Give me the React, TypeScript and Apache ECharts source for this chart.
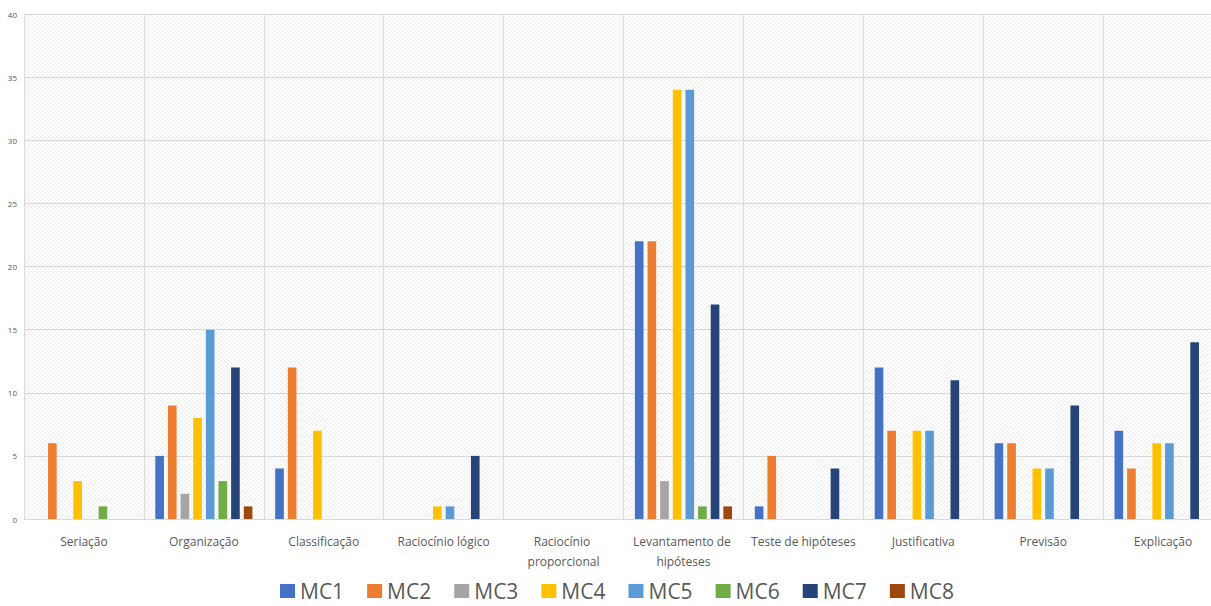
import React, { useEffect, useRef } from "react";
import * as echarts from "echarts";

const categories = [
  "Seriação",
  "Organização",
  "Classificação",
  "Raciocínio lógico",
  "Raciocínio proporcional",
  "Levantamento de hipóteses",
  "Teste de hipóteses",
  "Justificativa",
  "Previsão",
  "Explicação",
];

const seriesNames = ["MC1", "MC2", "MC3", "MC4", "MC5", "MC6", "MC7", "MC8"];
const colors = ["#4472C4", "#ED7D31", "#A5A5A5", "#FFC000", "#5B9BD5", "#70AD47", "#264478", "#9E480E"];

const mc1 = [0, 5, 4, 0, 0, 22, 1, 12, 6, 7];
const mc2 = [6, 9, 12, 0, 0, 22, 5, 7, 6, 4];
const mc3 = [0, 2, 0, 0, 0, 3, 0, 0, 0, 0];
const mc4 = [3, 8, 7, 1, 0, 34, 0, 7, 4, 6];
const mc5 = [0, 15, 0, 1, 0, 34, 0, 7, 4, 6];
const mc6 = [1, 3, 0, 0, 0, 1, 0, 0, 0, 0];
const mc7 = [0, 12, 0, 5, 0, 17, 4, 11, 9, 14];
const mc8 = [0, 1, 0, 0, 0, 1, 0, 0, 0, 0];

const seriesData = [mc1, mc2, mc3, mc4, mc5, mc6, mc7, mc8];

function makeHatch(): string {
  const c = document.createElement("canvas");
  c.width = 4;
  c.height = 4;
  const ctx = c.getContext("2d");
  if (ctx) {
    ctx.fillStyle = "#ffffff";
    ctx.fillRect(0, 0, 4, 4);
    ctx.strokeStyle = "#ebebeb";
    ctx.lineWidth = 1;
    ctx.beginPath();
    ctx.moveTo(-1, -1);
    ctx.lineTo(5, 5);
    ctx.moveTo(-1, 3);
    ctx.lineTo(1, 5);
    ctx.moveTo(3, -1);
    ctx.lineTo(5, 1);
    ctx.stroke();
  }
  return c.toDataURL();
}

export default function App() {
  const ref = useRef<HTMLDivElement>(null);
  useEffect(() => {
    document.body.style.margin = "0";
    document.body.style.overflow = "hidden";
    if (!ref.current) return;
    const chart = echarts.init(ref.current, undefined, { renderer: "svg" });
    const font = "'Open Sans', 'Noto Sans', sans-serif";
    chart.setOption({
      animation: false,
      backgroundColor: "#ffffff",
      textStyle: { fontFamily: font },
      grid: {
        left: 24,
        right: 0,
        top: 14,
        bottom: 87,
        containLabel: false,
        show: true,
        borderWidth: 0,
        backgroundColor: { image: makeHatch(), repeat: "repeat" },
      },
      legend: {
        data: seriesNames,
        left: 275,
        top: 575,
        itemWidth: 15,
        itemHeight: 14,
        itemGap: 23,
        icon: "rect",
        textStyle: { fontSize: 21, lineHeight: 22, color: "#595959", fontFamily: font },
      },
      xAxis: {
        type: "category",
        data: categories,
        axisTick: { show: false },
        axisLine: { show: true, lineStyle: { color: "#d9d9d9" } },
        splitLine: { show: true, lineStyle: { color: "#d9d9d9" } },
        axisLabel: {
          interval: 0,
          fontSize: 12,
          color: "#595959",
          margin: 12,
          lineHeight: 20,
          width: 116,
          overflow: "break",
          fontFamily: font,
        },
      },
      yAxis: {
        type: "value",
        min: 0,
        max: 40,
        interval: 5,
        axisLine: { show: false },
        axisTick: { show: false },
        splitLine: { show: true, lineStyle: { color: "#d9d9d9" } },
        axisLabel: { fontSize: 8, color: "#595959", margin: 7, fontFamily: font },
      },
      series: seriesNames.map((name, i) => ({
        name,
        type: "bar",
        data: seriesData[i],
        barGap: "46%",
        barCategoryGap: "19%",
        itemStyle: { color: colors[i] },
      })),
    });
    return () => chart.dispose();
  }, []);
  return <div ref={ref} style={{ width: 1224, height: 606 }} />;
}
